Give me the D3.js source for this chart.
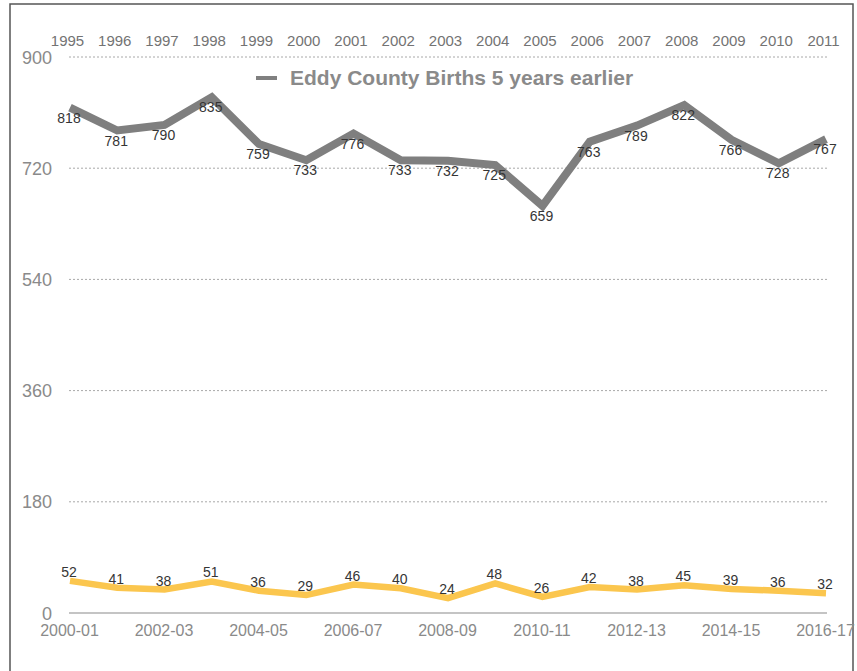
<!DOCTYPE html>
<html>
<head>
<meta charset="utf-8">
<script src="https://cdn.jsdelivr.net/npm/d3@7"></script>
<style>
  html, body { margin: 0; padding: 0; background: #fff; }
  svg { display: block; font-family: Arial, "Liberation Sans", Helvetica, sans-serif; }
</style>
</head>
<body>
<svg id="chart" width="857" height="671"></svg>
<script>
// Birth years (top axis) and school years (bottom axis)
const birthYears = ["1995","1996","1997","1998","1999","2000","2001","2002","2003","2004","2005","2006","2007","2008","2009","2010","2011"];
const schoolYears = ["2000-01","2001-02","2002-03","2003-04","2004-05","2005-06","2006-07","2007-08","2008-09","2009-10","2010-11","2011-12","2012-13","2013-14","2014-15","2015-16","2016-17"];

// Series values
const birthsFiveYearsEarlier = [818, 781, 790, 835, 759, 733, 776, 733, 732, 725, 659, 763, 789, 822, 766, 728, 767];
const enrolled = [52, 41, 38, 51, 36, 29, 46, 40, 24, 48, 26, 42, 38, 45, 39, 36, 32];

// Axis ticks
const yTicks = [0, 180, 360, 540, 720, 900];
const legendLabel = "Eddy County Births 5 years earlier";

const svg = d3.select("#chart");
const W = 857, H = 671;

// Outer frame
svg.append("rect")
  .attr("x", 10).attr("y", 4)
  .attr("width", 843).attr("height", H + 10)
  .attr("fill", "none").attr("stroke", "#555").attr("stroke-width", 1.5);

const plotLeft = 69, plotRight = 826, plotTop = 57, plotBottom = 613;

const idx = d3.range(birthYears.length);
const x = d3.scalePoint().domain(idx).range([plotLeft + 1, plotRight]);
const y = d3.scaleLinear().domain([0, 900]).range([plotBottom, plotTop]);

// Horizontal gridlines
svg.append("g")
  .selectAll("line")
  .data(yTicks.filter(d => d > 0))
  .join("line")
  .attr("x1", plotLeft).attr("x2", plotRight + 1)
  .attr("y1", d => y(d)).attr("y2", d => y(d))
  .attr("stroke", "#a8a8a8").attr("stroke-width", 1)
  .attr("stroke-dasharray", "2,2");

// Baseline
svg.append("line")
  .attr("x1", plotLeft).attr("x2", plotRight + 1)
  .attr("y1", y(0)).attr("y2", y(0))
  .attr("stroke", "#8a8a8a").attr("stroke-width", 1.2);

// Left value axis
const yAxis = d3.axisLeft(y).tickValues(yTicks).tickSize(0).tickPadding(0);
const gy = svg.append("g").attr("transform", `translate(52,0)`).call(yAxis);
gy.select(".domain").remove();
gy.selectAll("text")
  .attr("fill", "#8a8a8a").attr("font-size", 18)
  .attr("font-family", "Arial, 'Liberation Sans', sans-serif")
  .attr("dy", "0.34em");

// Top axis: birth years
const xTop = d3.axisTop(x).tickFormat(i => birthYears[i]).tickSize(0).tickPadding(0);
const gt = svg.append("g").attr("transform", "translate(-3,46)").call(xTop);
gt.select(".domain").remove();
gt.selectAll("text")
  .attr("fill", "#737373").attr("font-size", 15)
  .attr("font-family", "Arial, 'Liberation Sans', sans-serif")
  .attr("dy", 0);

// Bottom axis: every other school year
const xBottom = d3.axisBottom(x)
  .tickValues(idx.filter(i => i % 2 === 0))
  .tickFormat(i => schoolYears[i]).tickSize(0).tickPadding(0);
const gb = svg.append("g").attr("transform", "translate(-1,636)").call(xBottom);
gb.select(".domain").remove();
gb.selectAll("text")
  .attr("fill", "#8a8a8a").attr("font-size", 16)
  .attr("font-family", "Arial, 'Liberation Sans', sans-serif")
  .attr("dy", 0);

const line = d3.line().x((d, i) => x(i)).y(d => y(d));

// Enrollment series
svg.append("path")
  .datum(enrolled)
  .attr("d", line)
  .attr("fill", "none").attr("stroke", "#fbc64e")
  .attr("stroke-width", 6.5).attr("stroke-linejoin", "miter");

// Births series
svg.append("path")
  .datum(birthsFiveYearsEarlier)
  .attr("d", line)
  .attr("fill", "none").attr("stroke", "#7f7f7f")
  .attr("stroke-width", 8).attr("stroke-linejoin", "miter");

// Data labels
svg.append("g")
  .selectAll("text")
  .data(birthsFiveYearsEarlier)
  .join("text")
  .attr("x", (d, i) => x(i) - 1)
  .attr("y", d => y(d) + 15)
  .attr("text-anchor", "middle")
  .attr("font-size", 14).attr("fill", "#353535")
  .text(d => d);

svg.append("g")
  .selectAll("text")
  .data(enrolled)
  .join("text")
  .attr("x", (d, i) => x(i) - 1)
  .attr("y", d => y(d) - 4)
  .attr("text-anchor", "middle")
  .attr("font-size", 14).attr("fill", "#353535")
  .text(d => d);

// Legend
const lg = svg.append("g");
lg.append("line")
  .attr("x1", 256).attr("x2", 277).attr("y1", 78).attr("y2", 78)
  .attr("stroke", "#808080").attr("stroke-width", 4);
lg.append("text")
  .attr("x", 290).attr("y", 85)
  .attr("font-size", 21).attr("font-weight", "bold").attr("fill", "#8a8a8a")
  .text(legendLabel);
</script>
</body>
</html>
